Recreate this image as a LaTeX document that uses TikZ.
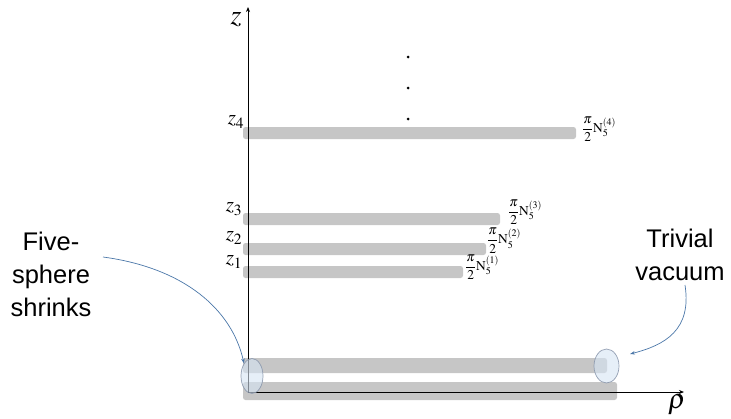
\documentclass[tikz,border=0pt]{standalone}
\usepackage{mathptmx}
\usepackage{fontspec}
\setmainfont{Liberation Serif}
\setsansfont{Liberation Sans}
\usetikzlibrary{arrows.meta,shapes.geometric}
\definecolor{bargray}{HTML}{C6C6C6}
\definecolor{arrblue}{HTML}{4A76A8}
\definecolor{ellfill}{HTML}{D6E4F3}
\definecolor{elldraw}{HTML}{8A97AC}
\tikzset{
  bar/.style={fill=bargray, draw=none, rounded corners=2.5pt, inner sep=0pt, minimum height=12pt},
  axis/.style={line width=0.9pt, -{Stealth[length=5pt,width=4pt]}},
  zlab/.style={font=\fontsize{21}{21}\selectfont, inner sep=0pt},
  nlab/.style={font=\fontsize{13.5}{13.5}\selectfont, inner sep=0pt, anchor=west},
  note/.style={font=\sffamily\fontsize{25.5}{33}\selectfont, align=center, inner sep=0pt},
  ell/.style={ellipse, draw=elldraw, fill=ellfill, fill opacity=0.6, draw opacity=0.9, line width=0.7pt, inner sep=0pt},
  pointer/.style={draw=arrblue, line width=0.7pt, -{Stealth[length=5pt,width=3.5pt]}},
  dot/.style={circle, fill=black, inner sep=0pt, minimum size=3pt}
}
\begin{document}
\begin{tikzpicture}[x=1pt,y=-1pt]
\useasboundingbox (0,0) rectangle (731,418);
% bars
\node[bar, minimum width=333pt] (b4) at (409.5,133) {};
\node[bar, minimum width=257pt] (b3) at (371.5,219) {};
\node[bar, minimum width=243pt] (b2) at (364.5,249) {};
\node[bar, minimum width=220pt] (b1) at (353,272) {};
\node[bar, minimum width=364pt, minimum height=15pt] (bt) at (425,365.5) {};
\node[bar, minimum width=374pt, minimum height=18pt] (bb) at (430,391) {};
% axes
\coordinate (o) at (248,392);
\coordinate (ztop) at (248,7);
\coordinate (rend) at (684,392);
\draw[axis] (o) -- (ztop);
\draw[axis] (o) -- (rend);
\node[font=\fontsize{28}{28}\selectfont, inner sep=0pt] (zl) at (236,20) {$z$};
\node[font=\fontsize{28}{28}\selectfont, inner sep=0pt] (rl) at (677,405) {$\rho$};
% dots
\node[dot] (d1) at (408,57) {};
\node[dot] (d2) at (408,88) {};
\node[dot] (d3) at (408,119) {};
% z labels
\node[zlab] (z4) at (236,122) {$z_4$};
\node[zlab] (z3) at (234,209) {$z_3$};
\node[zlab] (z2) at (234,238) {$z_2$};
\node[zlab] (z1) at (234,262) {$z_1$};
% N labels
\node[nlab] (n4) at (582,129) {$\displaystyle\frac{\pi}{2}\mathrm{N}_5^{(4)}$};
\node[nlab] (n3) at (508,212) {$\displaystyle\frac{\pi}{2}\mathrm{N}_5^{(3)}$};
\node[nlab] (n2) at (487,240.5) {$\displaystyle\frac{\pi}{2}\mathrm{N}_5^{(2)}$};
\node[nlab] (n1) at (465,267) {$\displaystyle\frac{\pi}{2}\mathrm{N}_5^{(1)}$};
% ellipses
\node[ell, minimum width=22pt, minimum height=35pt] (el) at (252,376) {};
\node[ell, minimum width=25pt, minimum height=34pt] (er) at (606.5,366) {};
% notes
\node[note] (five) at (51,274) {Five-\\sphere\\shrinks};
\node[note] (triv) at (680,255) {Trivial\\vacuum};
\coordinate (fs) at (103,257);
\coordinate (ts) at (685,285);
\draw[pointer] (fs) .. controls (185,268) and (232,310) .. (el.north west);
\draw[pointer] (ts) .. controls (692,330) and (665,345) .. (630,354);
\end{tikzpicture}
\end{document}
